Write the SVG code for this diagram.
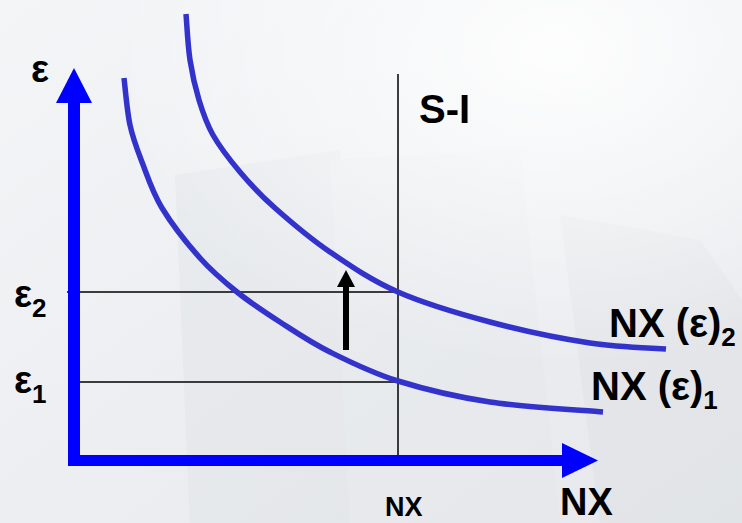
<svg xmlns="http://www.w3.org/2000/svg" width="742" height="523" viewBox="0 0 742 523">
  <defs>
    <linearGradient id="bg" x1="0" y1="0" x2="1" y2="1">
      <stop offset="0" stop-color="#f3f5f7"/>
      <stop offset="0.5" stop-color="#eceef1"/>
      <stop offset="1" stop-color="#e6e8eb"/>
    </linearGradient>
    <radialGradient id="glow" cx="0.75" cy="0.1" r="0.6">
      <stop offset="0" stop-color="#ffffff" stop-opacity="0.9"/>
      <stop offset="1" stop-color="#ffffff" stop-opacity="0"/>
    </radialGradient>
    <style>
      .axis { stroke: #0000ff; stroke-width: 12; fill: none; }
      .axishead { fill: #0000ff; }
      .curve { stroke: #3333cc; stroke-width: 5.5; fill: none; }
      .thin { stroke: #000000; stroke-width: 1.5; fill: none; }
      .lbl { font-family: "Liberation Sans", Arial, sans-serif; font-weight: bold; fill: #000000; }
    </style>
  </defs>

  <!-- background -->
  <rect x="0" y="0" width="742" height="523" fill="url(#bg)"/>
  <g opacity="0.25">
    <polygon points="175,175 340,150 365,523 190,523" fill="#d9dce0"/>
    <polygon points="330,160 520,150 560,523 350,523" fill="#e2e5e8"/>
    <polygon points="560,215 700,240 742,300 742,523 600,523" fill="#d6d9dd"/>
  </g>
  <rect x="0" y="0" width="742" height="523" fill="url(#glow)"/>

  <!-- guide lines -->
  <g id="guides">
    <line class="thin" x1="67" y1="292" x2="398" y2="292"/>
    <line class="thin" x1="76" y1="382" x2="398" y2="382"/>
    <line class="thin" x1="398" y1="74" x2="398" y2="466"/>
  </g>

  <!-- curves -->
  <g id="curve-nx2">
    <path class="curve" d="M186,14 C186.7,21.7 187.8,45.7 190,60 C192.2,74.3 195.2,87.5 199,100 C202.8,112.5 206.2,123 213,135 C219.8,147 229.7,159.8 240,172 C250.3,184.2 260,194.7 275,208 C290,221.3 309.5,238 330,252 C350.5,266 371.3,280.3 398,292 C424.7,303.7 458,313.5 490,322 C522,330.5 560.7,338.5 590,343 C619.3,347.5 653.3,348 666,349"/>
  </g>
  <g id="curve-nx1">
    <path class="curve" d="M124,78 C125,85.8 127,111 130,125 C133,139 136.7,148.2 142,162 C147.3,175.8 152.3,192 162,208 C171.7,224 187.5,244 200,258 C212.5,272 223.7,281.3 237,292 C250.3,302.7 264.5,312 280,322 C295.5,332 310.3,342.2 330,352 C349.7,361.8 371.3,372.7 398,381 C424.7,389.3 455.8,396.8 490,402 C524.2,407.2 584.2,410.3 603,412"/>
  </g>

  <!-- axes -->
  <g id="connectors">
    <line class="axis" x1="74" y1="466" x2="74" y2="100"/>
    <polygon class="axishead" points="56,103 74,68 92,103"/>
    <line class="axis" x1="68" y1="460.5" x2="565" y2="460.5" style="stroke-width:11"/>
    <polygon class="axishead" points="562,443 598,460.5 562,478"/>
    <line x1="346" y1="350" x2="346" y2="284" stroke="#000000" stroke-width="6"/>
    <polygon points="337,287 346,270 355,287" fill="#000000"/>
  </g>

  <!-- labels -->
  <g id="label-eps">
    <text class="lbl" x="31" y="82" font-size="38">ε</text>
  </g>
  <g id="label-eps2">
    <text class="lbl" x="14" y="307" font-size="38">ε<tspan font-size="26" dy="10">2</tspan></text>
  </g>
  <g id="label-eps1">
    <text class="lbl" x="14" y="393" font-size="38">ε<tspan font-size="26" dy="10">1</tspan></text>
  </g>
  <g id="label-si">
    <text class="lbl" x="419" y="123" font-size="40">S-I</text>
  </g>
  <g id="label-nx2">
    <text class="lbl" x="609" y="337" font-size="40">NX (ε)<tspan font-size="26" dy="9">2</tspan></text>
  </g>
  <g id="label-nx1">
    <text class="lbl" x="591" y="400" font-size="40">NX (ε)<tspan font-size="26" dy="9">1</tspan></text>
  </g>
  <g id="label-nx-small">
    <text class="lbl" x="385" y="516" font-size="27">NX</text>
  </g>
  <g id="label-nx-axis">
    <text class="lbl" x="560" y="515" font-size="38">NX</text>
  </g>
</svg>
